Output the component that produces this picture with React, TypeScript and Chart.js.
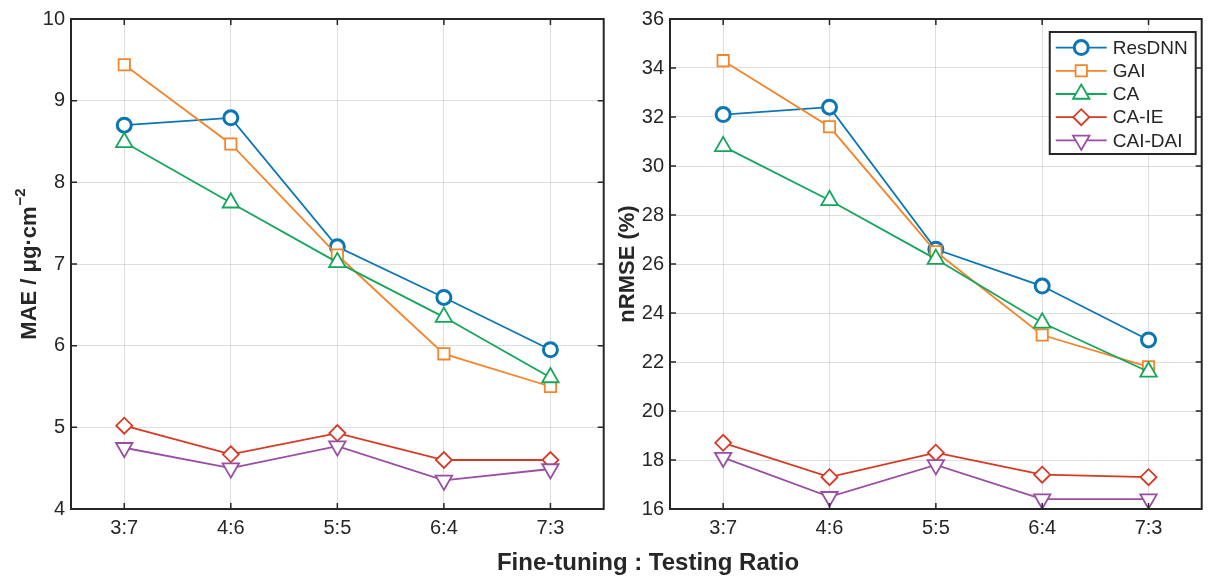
import { useEffect, useRef } from 'react';
import { Chart, registerables } from 'chart.js';
import { drawPoint } from 'chart.js/helpers';

Chart.register(...registerables);

const ratios = ['3:7', '4:6', '5:5', '6:4', '7:3'];
const seriesNames = ['ResDNN', 'GAI', 'CA', 'CA-IE', 'CAI-DAI'];

// MAE (μg·cm^-2)
const maeResDNN = [8.7, 8.79, 7.21, 6.59, 5.95];
const maeGAI = [9.44, 8.47, 7.11, 5.9, 5.5];
const maeCA = [8.49, 7.75, 7.02, 6.35, 5.61];
const maeCAIE = [5.02, 4.67, 4.93, 4.6, 4.6];
const maeCAIDAI = [4.75, 4.5, 4.77, 4.35, 4.49];

// nRMSE (%)
const nrmseResDNN = [32.1, 32.4, 26.6, 25.1, 22.9];
const nrmseGAI = [34.3, 31.6, 26.5, 23.1, 21.8];
const nrmseCA = [30.8, 28.6, 26.2, 23.6, 21.6];
const nrmseCAIE = [18.7, 17.3, 18.3, 17.4, 17.3];
const nrmseCAIDAI = [18.1, 16.5, 17.8, 16.4, 16.4];

const maeRange = [4, 10, 1];
const nrmseRange = [16, 36, 2];

const FONT = '"Liberation Sans", Arial, Helvetica, sans-serif';
const TEXT = '#262626';

const styles = [
  { color: '#0a76b4', pointStyle: 'circle', radius: 7, rotation: 0, markerWidth: 3 },
  { color: '#f5842a', pointStyle: 'rect', radius: 8, rotation: 0, markerWidth: 1.8 },
  { color: '#14a75c', pointStyle: 'triangle', radius: 9.5, rotation: 0, markerWidth: 1.8 },
  { color: '#d63a25', pointStyle: 'rectRot', radius: 8, rotation: 0, markerWidth: 1.8 },
  { color: '#9a4ea3', pointStyle: 'triangle', radius: 9.5, rotation: 180, markerWidth: 1.8 },
];

function buildDatasets(series: number[][]) {
  return series.map((data, i) => ({
    label: seriesNames[i],
    data,
    borderColor: styles[i].color,
    borderWidth: 1.8,
    pointStyle: styles[i].pointStyle,
    pointRadius: styles[i].radius,
    pointRotation: styles[i].rotation,
    pointBorderWidth: styles[i].markerWidth,
    pointBorderColor: styles[i].color,
    pointBackgroundColor: '#ffffff',
    tension: 0,
    order: series.length - i,
  }));
}

// MATLAB-like box with inward ticks
const framePlugin = {
  id: 'frame',
  afterDraw(chart: any) {
    const { ctx, chartArea: a, scales } = chart;
    ctx.save();
    ctx.strokeStyle = '#262626';
    ctx.lineWidth = 1.5;
    const len = 6;
    ctx.beginPath();
    scales.y.ticks.forEach((t: any) => {
      const y = scales.y.getPixelForValue(t.value);
      ctx.moveTo(a.left, y);
      ctx.lineTo(a.left + len, y);
      ctx.moveTo(a.right, y);
      ctx.lineTo(a.right - len, y);
    });
    ratios.forEach((_, i) => {
      const x = scales.x.getPixelForValue(i);
      ctx.moveTo(x, a.bottom);
      ctx.lineTo(x, a.bottom - len);
      ctx.moveTo(x, a.top);
      ctx.lineTo(x, a.top + len);
    });
    ctx.stroke();
    ctx.lineWidth = 2;
    ctx.strokeRect(a.left, a.top, a.right - a.left, a.bottom - a.top);
    ctx.restore();
  },
};

// rotated y title with an optional superscript
const yTitlePlugin = {
  id: 'yTitle',
  afterDraw(chart: any, _args: any, opts: any) {
    if (!opts || !opts.text) return;
    const { ctx, chartArea: a } = chart;
    ctx.save();
    ctx.fillStyle = TEXT;
    ctx.textBaseline = 'middle';
    ctx.textAlign = 'left';
    ctx.translate(opts.x, (a.top + a.bottom) / 2);
    ctx.rotate(-Math.PI / 2);
    const mainFont = `bold 22px ${FONT}`;
    const supFont = `bold 15px ${FONT}`;
    ctx.font = mainFont;
    const w = ctx.measureText(opts.text).width;
    ctx.font = supFont;
    const ws = opts.sup ? ctx.measureText(opts.sup).width + 1 : 0;
    const start = -(w + ws) / 2;
    ctx.font = mainFont;
    ctx.fillText(opts.text, start, 0);
    if (opts.sup) {
      ctx.font = supFont;
      ctx.fillText(opts.sup, start + w + 1, -9);
    }
    ctx.restore();
  },
};

// legend: line - marker - line, in a boxed frame at the top right
const boxLegendPlugin = {
  id: 'boxLegend',
  afterDraw(chart: any, _args: any, opts: any) {
    if (!opts || !opts.show) return;
    const { ctx, chartArea: a } = chart;
    ctx.save();
    ctx.font = `19px ${FONT}`;
    const rowH = 23.2;
    const lineLen = 51;
    const textW = Math.max(...chart.data.datasets.map((d: any) => ctx.measureText(d.label).width));
    const boxW = 6 + lineLen + 6 + textW + 8;
    const boxH = rowH * chart.data.datasets.length + 6;
    const right = a.right - 6;
    const left = right - boxW;
    const top = a.top + 13;
    ctx.fillStyle = '#ffffff';
    ctx.fillRect(left, top, boxW, boxH);
    chart.data.datasets.forEach((d: any, i: number) => {
      const y = top + 3 + rowH * (i + 0.5) + 1;
      const x0 = left + 6;
      ctx.strokeStyle = d.borderColor;
      ctx.lineWidth = 1.8;
      ctx.beginPath();
      ctx.moveTo(x0, y);
      ctx.lineTo(x0 + lineLen, y);
      ctx.stroke();
      ctx.fillStyle = '#ffffff';
      ctx.lineWidth = d.pointBorderWidth;
      drawPoint(ctx, {
        pointStyle: d.pointStyle,
        rotation: d.pointRotation,
        radius: d.pointRadius,
        borderWidth: d.pointBorderWidth,
      }, x0 + lineLen / 2, y);
      ctx.fillStyle = TEXT;
      ctx.textBaseline = 'middle';
      ctx.textAlign = 'left';
      ctx.fillText(d.label, x0 + lineLen + 6, y + 1);
    });
    ctx.strokeStyle = '#262626';
    ctx.lineWidth = 2;
    ctx.strokeRect(left, top, boxW, boxH);
    ctx.restore();
  },
};

interface PanelProps {
  series: number[][];
  range: number[];
  title: string;
  sup: string;
  titleX: number;
  yWidth: number;
  padRight: number;
  showLegend: boolean;
}

function Panel({ series, range, title, sup, titleX, yWidth, padRight, showLegend }: PanelProps) {
  const ref = useRef<HTMLCanvasElement>(null);

  useEffect(() => {
    if (!ref.current) return;
    const chart = new Chart(ref.current, {
      type: 'line',
      data: { labels: ratios, datasets: buildDatasets(series) as any },
      plugins: [framePlugin, yTitlePlugin, boxLegendPlugin],
      options: {
        animation: false,
        responsive: true,
        maintainAspectRatio: false,
        layout: { padding: { top: 19, right: padRight, bottom: 34, left: 0 } },
        plugins: {
          legend: { display: false },
          tooltip: { enabled: false },
          boxLegend: { show: showLegend },
          yTitle: { text: title, sup, x: titleX },
        } as any,
        scales: {
          x: {
            type: 'category',
            offset: true,
            grid: { color: 'rgba(0,0,0,0.13)', lineWidth: 1, drawTicks: false },
            border: { display: false },
            ticks: { color: TEXT, font: { family: FONT, size: 20 }, padding: 7 },
            afterFit: (s: any) => {
              s.height = 40;
            },
          },
          y: {
            min: range[0],
            max: range[1],
            grid: { color: 'rgba(0,0,0,0.13)', lineWidth: 1, drawTicks: false },
            border: { display: false },
            ticks: { stepSize: range[2], color: TEXT, font: { family: FONT, size: 20 }, padding: 6 },
            afterFit: (s: any) => {
              s.width = yWidth;
            },
          },
        },
      },
    });
    return () => chart.destroy();
  }, [series, range, title, sup, titleX, yWidth, padRight, showLegend]);

  return <canvas ref={ref} />;
}

const maeSeries = [maeResDNN, maeGAI, maeCA, maeCAIE, maeCAIDAI];
const nrmseSeries = [nrmseResDNN, nrmseGAI, nrmseCA, nrmseCAIE, nrmseCAIDAI];

export default function App() {
  return (
    <div style={{ position: 'absolute', left: 0, top: 0, width: 1213, height: 583, background: '#fff' }}>
      <div style={{ position: 'absolute', left: 0, top: 0, width: 615, height: 583 }}>
        <Panel
          series={maeSeries}
          range={maeRange}
          title="MAE / μg·cm"
          sup="−2"
          titleX={30}
          yWidth={71}
          padRight={8}
          showLegend={false}
        />
      </div>
      <div style={{ position: 'absolute', left: 612, top: 0, width: 601, height: 583 }}>
        <Panel
          series={nrmseSeries}
          range={nrmseRange}
          title="nRMSE (%)"
          sup=""
          titleX={16}
          yWidth={58}
          padRight={9}
          showLegend={true}
        />
      </div>
      <div
        style={{
          position: 'absolute',
          left: 448,
          top: 549,
          width: 400,
          textAlign: 'center',
          font: `bold 24px ${FONT}`,
          lineHeight: '26px',
          color: TEXT,
        }}
      >
        Fine-tuning : Testing Ratio
      </div>
    </div>
  );
}
